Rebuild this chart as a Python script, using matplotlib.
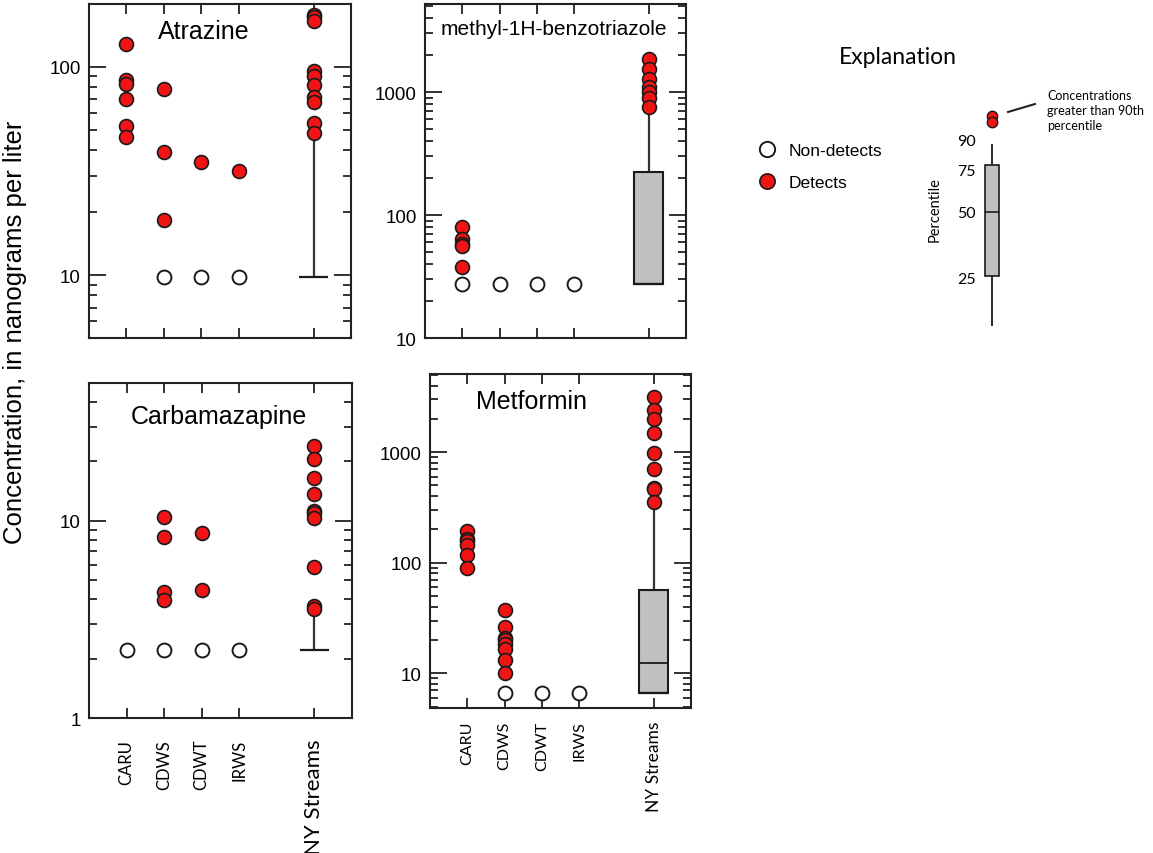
import numpy as np
import matplotlib.pyplot as plt
from matplotlib.ticker import LogLocator, FuncFormatter, NullFormatter
from matplotlib.lines import Line2D

W, H = 1153, 854

sites = ['CARU', 'CDWS', 'CDWT', 'IRWS', 'NY Streams']
site_x = [1, 2, 3, 4, 6]

# detects per site (last entry = NY Streams values above 90th percentile)
atr_det = [[129, 86, 83, 70, 52, 46], [78, 39, 18.4], [34.8], [31.5],
           [178, 173, 166, 95, 90, 82, 72, 68, 54, 48]]
atr_nd = [None, 9.8, 9.8, 9.8, None]
atr_box = [9.8, 9.8, 9.8, 9.8, 48]          # p10, p25, p50, p75, p90

mbt_det = [[80, 64, 58, 56, 37.5], [], [], [],
           [1845, 1530, 1267, 1100, 1000, 894, 755]]
mbt_nd = [27.7, 27.7, 27.7, 27.7, None]
mbt_box = [27.5, 27.5, 27.5, 225, 755]

carb_det = [[], [10.5, 8.3, 4.36, 3.96], [8.65, 4.48], [],
            [23.9, 20.6, 16.4, 13.7, 11.2, 10.9, 10.3, 5.8, 3.7, 3.56]]
carb_nd = [2.2, 2.2, 2.2, 2.2, None]
carb_box = [2.2, 2.2, 2.2, 2.2, 3.56]

met_det = [[193, 165, 158, 146, 118, 90],
           [37.7, 26, 21, 20, 18.4, 16.6, 13.3, 10], [], [],
           [3180, 2420, 2000, 1485, 980, 706, 475, 460, 357]]
met_nd = [None, 6.6, 6.6, 6.6, None]
met_box = [6.6, 6.6, 12.3, 56.8, 357]

# explanation key (schematic)
key_labels = ['90', '75', '50', '25']

ARIAL = 'Liberation Sans'
MYRIAD = 'Lato'
RED = '#f01414'
EDGE = '#1a1a1a'


def px_rect(left, top, right, bottom):
    return [left / W, 1 - bottom / H, (right - left) / W, (bottom - top) / H]


def draw_box(ax, x, p, w=0.77):
    p10, p25, p50, p75, p90 = p
    ax.vlines(x, p75, p90, color='#333333', lw=1.6, zorder=2)
    ax.vlines(x, p10, p25, color='#333333', lw=1.6, zorder=2)
    if p75 > p25:
        ax.bar(x, p75 - p25, bottom=p25, width=w, color='#c0c0c0',
               edgecolor=EDGE, lw=1.5, zorder=2)
        ax.hlines(p50, x - w / 2, x + w / 2, color=EDGE, lw=1.3, zorder=3)
    ax.hlines(p10, x - w / 2, x + w / 2, color=EDGE, lw=1.6, zorder=3)


def panel(rect, title, det, nd, box, ylim, txy, tsize, labels=None):
    ax = fig.add_axes(rect)
    ax.set_yscale('log')
    ax.set_xlim(0, 7)
    ax.set_ylim(*ylim)
    draw_box(ax, site_x[-1], box)
    for x, vals, n in zip(site_x, det, nd):
        if n is not None:
            ax.plot(x, n, 'o', ms=10, mfc='white', mec=EDGE, mew=1.4, zorder=4)
        if vals:
            ax.plot([x] * len(vals), vals, 'o', ms=10, mfc=RED, mec=EDGE,
                    mew=1.2, zorder=5)
    ax.text(txy[0], txy[1], title, transform=ax.transAxes, ha='center',
            va='center', fontsize=tsize, family=ARIAL)
    ax.yaxis.set_major_locator(LogLocator(base=10))
    ax.yaxis.set_minor_locator(LogLocator(base=10, subs=np.arange(2, 10)))
    ax.yaxis.set_major_formatter(FuncFormatter(lambda v, _: f'{v:g}'))
    ax.yaxis.set_minor_formatter(NullFormatter())
    ax.tick_params(which='both', direction='in', top=True, right=True,
                   width=1.3, color='#222222')
    ax.tick_params(axis='y', which='major', length=12, labelsize=13.5, pad=6)
    ax.tick_params(axis='y', which='minor', length=6)
    ax.tick_params(axis='x', which='major', length=7)
    for lbl in ax.get_yticklabels():
        lbl.set_family(ARIAL)
    ax.set_xticks(site_x)
    if labels:
        small, big, pad = labels
        ax.set_xticklabels(sites, rotation=90, family=MYRIAD)
        ax.tick_params(axis='x', pad=pad)
        for i, lbl in enumerate(ax.get_xticklabels()):
            lbl.set_fontsize(big if i == len(sites) - 1 else small)
    else:
        ax.set_xticklabels([])
    for s in ax.spines.values():
        s.set_linewidth(1.5)
        s.set_color('#222222')
    return ax


fig = plt.figure(figsize=(W / 100, H / 100), dpi=100)

panel(px_rect(89, 5, 351, 339), 'Atrazine', atr_det, atr_nd, atr_box,
      (5, 200), (0.439, 0.919), 18)
panel(px_rect(425, 5, 686, 339), 'methyl-1H-benzotriazole', mbt_det, mbt_nd,
      mbt_box, (10, 5200), (0.494, 0.928), 15)
panel(px_rect(89, 384, 352, 719), 'Carbamazapine', carb_det, carb_nd,
      carb_box, (1, 50), (0.494, 0.901), 18, labels=(12, 16, 15))
panel(px_rect(430, 375, 691, 709), 'Metformin', met_det, met_nd, met_box,
      (4.85, 5100), (0.387, 0.919), 18, labels=(11.5, 12.5, 9))

fig.text(15 / W, 1 - 332 / H, 'Concentration, in nanograms per liter',
         rotation=90, ha='center', va='center', fontsize=18.5, family=ARIAL)

# explanation
fig.text(898 / W, 1 - 57 / H, 'Explanation', ha='center', va='center',
         fontsize=16.5, family=MYRIAD)
handles = [Line2D([], [], ls='', marker='o', ms=11, mfc='white', mec=EDGE, mew=1.4),
           Line2D([], [], ls='', marker='o', ms=11, mfc=RED, mec=EDGE, mew=1.2)]
fig.legend(handles, ['Non-detects', 'Detects'], loc='upper left',
           bbox_to_anchor=(757 / W, 1 - 144 / H), frameon=False,
           prop={'family': ARIAL, 'size': 12.5}, handlelength=1.2,
           handletextpad=0.6, labelspacing=0.98, borderpad=0, borderaxespad=0)

kx = fig.add_axes(px_rect(983, 100, 1001, 335))
kx.set_xlim(-1, 1)
kx.set_ylim(335, 100)
kx.vlines(0, 145, 166, color=EDGE, lw=1.3)
kx.vlines(0, 277, 327, color=EDGE, lw=1.3)
kx.bar(0, 277 - 166, bottom=166, width=1.45, color='#c0c0c0', edgecolor=EDGE, lw=1.2)
kx.hlines(213, -0.725, 0.725, color=EDGE, lw=1.2)
kx.plot([0, 0], [117, 123], 'o', ms=7.5, mfc=RED, mec=EDGE, mew=1.0)
kx.set_yticks([141, 171, 213, 278])
kx.set_yticklabels(key_labels, family=MYRIAD, fontsize=11.5)
kx.tick_params(length=0, pad=5)
kx.set_xticks([])
for s in kx.spines.values():
    s.set_visible(False)
kx.patch.set_alpha(0)
kx.set_ylabel('Percentile', family=MYRIAD, fontsize=10.5)
kx.yaxis.set_label_coords(-2.28, 0.532)

fig.add_artist(Line2D([1008 / W, 1035 / W], [1 - 113 / H, 1 - 105 / H],
                      transform=fig.transFigure, color='#222222', lw=1.5))
fig.text(1047 / W, 1 - 90 / H, 'Concentrations\ngreater than 90th\npercentile',
         ha='left', va='top', fontsize=9, linespacing=1.3, family=MYRIAD)

fig.savefig('out.png', dpi=100)
